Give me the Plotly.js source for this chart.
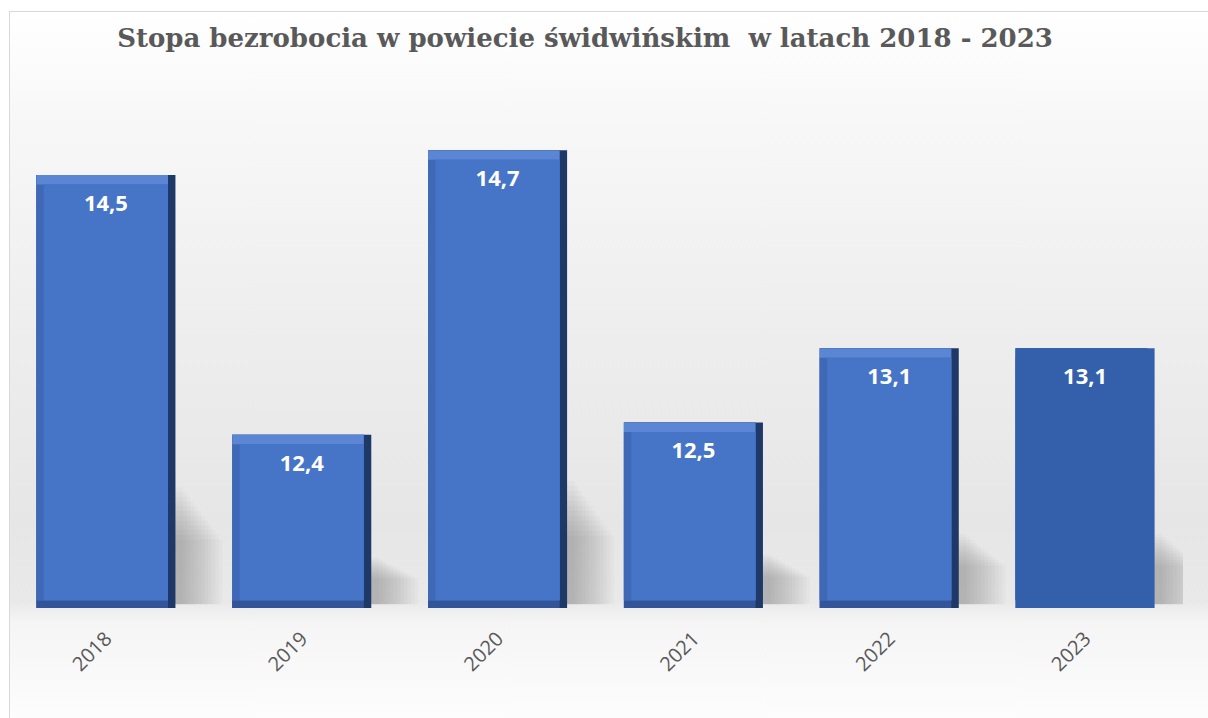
<!DOCTYPE html>
<html>
<head>
<meta charset="utf-8">
<script src="https://cdn.plot.ly/plotly-3.0.1.min.js"></script>
<style>
  html, body { margin: 0; padding: 0; width: 1208px; height: 718px; overflow: hidden; background: #ffffff; }
  #bg { position: absolute; left: 9px; top: 11px; width: 1205px; height: 710px;
        border: 1px solid #d9d9d9;
        background: linear-gradient(to bottom, #ffffff 0%, #f8f8f8 14%, #efefef 40%, #e6e6e6 72%, #e9e9e9 83%, #f5f5f5 86%, #fdfdfd 100%); }
  #chart { position: absolute; left: 0; top: 0; width: 1208px; height: 718px; }
</style>
</head>
<body>
<div id="bg"></div>
<div id="chart"></div>
<script>
// ---- data ----
const years = ['2018', '2019', '2020', '2021', '2022', '2023'];
const rates = [14.5, 12.4, 14.7, 12.5, 13.1, 13.1];
const axisMin = 11;
const axisMax = 15;
const titleText = 'Stopa bezrobocia w powiecie świdwińskim  w latach 2018 - 2023';

// ---- styling ----
const labels = rates.map(v => v.toFixed(1).replace('.', ','));
const bevelled = [true, true, true, true, true, false];
const flat = '#345FAA';
const pick = (c) => bevelled.map(b => b ? c : flat);

const BW = 0.71;        // bar width (category units)
const EX = 0.038;       // side bevel (category units)
const EY = 0.062;       // top/bottom bevel (value units)
const heights = rates.map(v => v - axisMin);

function layer(color, offset, width, baseAdd, topSub) {
  return {
    type: 'bar', x: years,
    y: heights.map(h => h - baseAdd - topSub),
    base: axisMin + baseAdd,
    offset: offset, width: width,
    marker: { color: color, line: { width: 0 } },
    hoverinfo: 'skip', showlegend: false
  };
}

function shadow(ext, frac, alpha) {
  return {
    type: 'bar', x: years,
    y: heights.map(h => h * frac),
    base: axisMin + 0.03,
    offset: 0, width: BW / 2 + ext,
    marker: { color: 'rgba(0,0,0,' + alpha + ')', line: { width: 0 } },
    hoverinfo: 'skip', showlegend: false
  };
}

const shadowLayers = [];
const NS = 12;
for (let i = 0; i < NS; i++) {
  const t = i / (NS - 1);
  shadowLayers.push(shadow(0.24 - 0.2 * t, 0.15 + 0.12 * t, 0.018));
}

const traces = shadowLayers.concat([
  layer(pick('#1E3867'), -BW / 2, BW, 0, 0),                 // right dark edge
  layer(pick('#32559A'), -BW / 2, BW - EX, 0, 0),            // bottom band
  layer(pick('#5A86D4'), -BW / 2, BW - EX, EY, 0),           // top band
  layer(pick('#3F69B6'), -BW / 2, BW - EX, EY, EY * 1.25),   // left edge
  layer(pick('#4674C7'), -BW / 2 + EX, BW - 2 * EX, EY, EY * 1.25), // face
  {
    type: 'scatter', mode: 'text', x: years,
    y: rates.map(v => v - 0.245),
    text: labels,
    textposition: 'middle center',
    textfont: { family: 'Open Sans, Liberation Sans, sans-serif', size: 22, color: '#ffffff', weight: 'bold' },
    hoverinfo: 'skip', showlegend: false
  }
]);

const layout = {
  width: 1208,
  height: 718,
  paper_bgcolor: 'rgba(0,0,0,0)',
  plot_bgcolor: 'rgba(0,0,0,0)',
  margin: { l: 8, r: 25, t: 113, b: 110 },
  barmode: 'overlay',
  title: {
    text: '<b>' + titleText + '</b>',
    x: 585 / 1208,
    xanchor: 'center',
    y: 1 - 38 / 718,
    yanchor: 'middle',
    font: { family: 'DejaVu Serif, Liberation Serif, serif', size: 26, color: '#595959' }
  },
  xaxis: {
    type: 'category',
    categoryorder: 'array',
    categoryarray: years,
    range: [-0.5, years.length - 0.5],
    autorange: false,
    tickangle: -45,
    tickfont: { family: 'Open Sans, Liberation Sans, sans-serif', size: 20, color: '#595959' },
    ticklabelstandoff: 14,
    showgrid: false,
    zeroline: false,
    showline: false,
    ticks: ''
  },
  yaxis: {
    range: [axisMin, axisMax],
    visible: false,
    showgrid: false,
    zeroline: false
  },
  showlegend: false
};

Plotly.newPlot('chart', traces, layout, { displayModeBar: false, staticPlot: true });
</script>
</body>
</html>
